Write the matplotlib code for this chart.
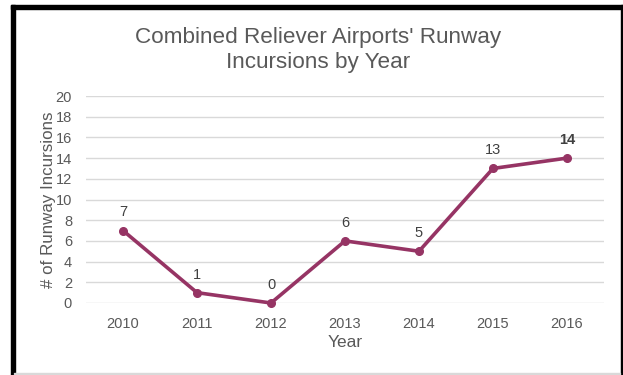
import matplotlib
matplotlib.use("Agg")
import matplotlib.pyplot as plt
from matplotlib.patches import Rectangle

years = ["2010", "2011", "2012", "2013", "2014", "2015", "2016"]
incursions = [7, 1, 0, 6, 5, 13, 14]
yticks = [0, 2, 4, 6, 8, 10, 12, 14, 16, 18, 20]

plt.rcParams['font.family'] = ['Liberation Sans', 'DejaVu Sans']
W, H = 623, 375
fig = plt.figure(figsize=(W/100, H/100), dpi=100)

def px(x0, y0, x1, y1):
    return [x0/W, 1 - y1/H, (x1-x0)/W, (y1-y0)/H]

ax = fig.add_axes(px(86, 96, 604, 303))
line_color = '#963464'
xs = list(range(len(years)))
ax.plot(xs, incursions, color=line_color, lw=2.6, marker='o', ms=5.5, zorder=3, clip_on=False)
for i, v in enumerate(incursions):
    ax.annotate(str(v), (xs[i], v), xytext=(0, 8), textcoords='offset points',
                ha='center', va='bottom', fontsize=10.5, color='#404040',
                fontweight='bold' if i == len(years)-1 else 'normal')
ax.set_xlim(-0.5, len(years)-0.5)
ax.set_ylim(0, 20)
ax.set_yticks(yticks)
ax.set_xticks(xs)
ax.set_xticklabels(years)
ax.grid(axis='y', color='#d9d9d9', lw=1)
ax.set_axisbelow(True)
for s in ax.spines.values():
    s.set_visible(False)
ax.tick_params(length=0, labelsize=10.5, labelcolor='#595959')
ax.tick_params(axis='x', pad=10)
ax.tick_params(axis='y', pad=10)
ax.set_xlabel('Year', fontsize=12.5, color='#595959', labelpad=3)
ax.set_ylabel('# of Runway Incursions', fontsize=12.2, color='#595959', labelpad=0)

fig.text(318/W, 1 - 50/H, "Combined Reliever Airports' Runway\nIncursions by Year",
         ha='center', va='center', fontsize=16.2, color='#595959', linespacing=1.3)

# frame
fig.patches.append(Rectangle((11/W, 1-375/H), 3.5/W, 370/H, transform=fig.transFigure, color='black'))
fig.patches.append(Rectangle((11/W, 1-8.5/H), 612/W, 3.5/H, transform=fig.transFigure, color='black'))
fig.patches.append(Rectangle((620.5/W, 1-375/H), 2/W, 370/H, transform=fig.transFigure, color='black'))
fig.patches.append(Rectangle((14/W, 1-374/H), 606/W, 1.5/H, transform=fig.transFigure, color='#d9d9d9'))

fig.savefig('out.png', dpi=100)
